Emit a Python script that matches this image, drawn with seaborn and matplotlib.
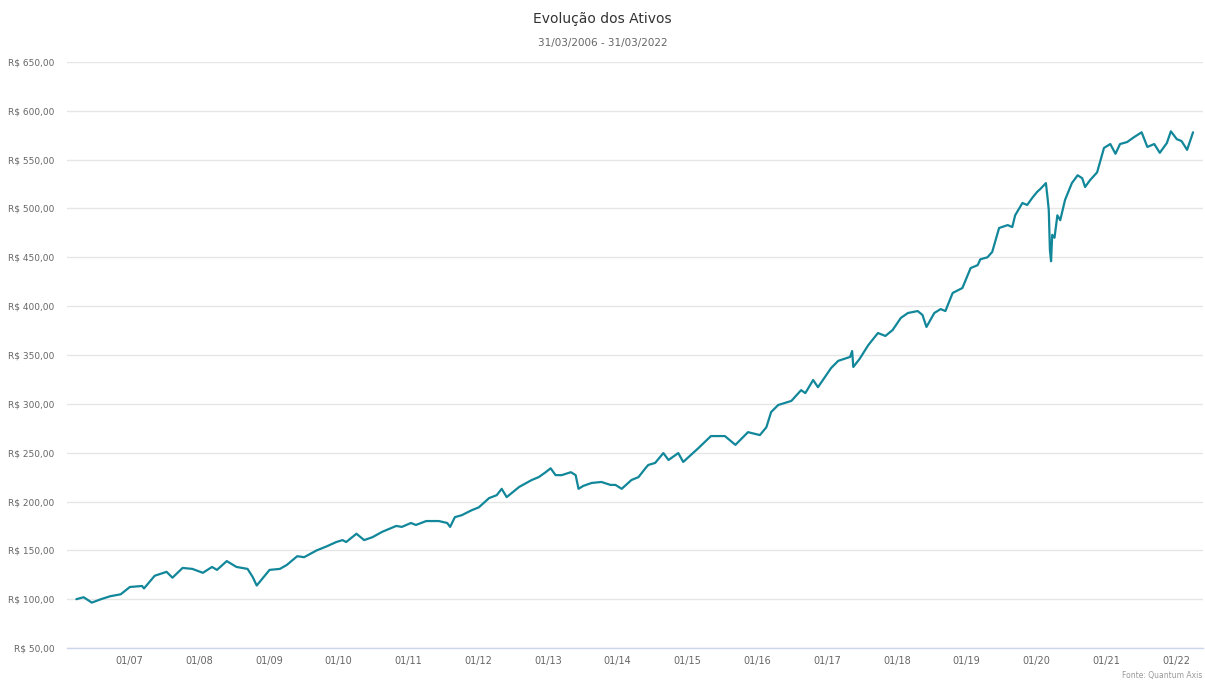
import pandas as pd
import seaborn as sns
import matplotlib.pyplot as plt
import matplotlib.dates as mdates
from matplotlib.ticker import FuncFormatter

# valores (R$)
dates = [
    "2006-03-31", "2006-05-08", "2006-06-20", "2006-08-07", "2006-09-24", "2006-11-18",
    "2007-01-05", "2007-03-10", "2007-03-20", "2007-05-15", "2007-07-16", "2007-08-16",
    "2007-10-08", "2007-11-28", "2008-01-22", "2008-03-10", "2008-04-05", "2008-05-26",
    "2008-07-16", "2008-09-12", "2008-10-08", "2008-10-30", "2008-11-24", "2009-01-05",
    "2009-02-28", "2009-04-05", "2009-05-30", "2009-07-05", "2009-09-09", "2009-10-30",
    "2009-12-20", "2010-01-22", "2010-02-10", "2010-04-05", "2010-05-15", "2010-06-28",
    "2010-08-18", "2010-10-30", "2010-11-28", "2011-01-15", "2011-02-10", "2011-04-05",
    "2011-06-10", "2011-07-24", "2011-08-08", "2011-09-02", "2011-10-08", "2011-11-28",
    "2012-01-05", "2012-02-28", "2012-04-08", "2012-05-04", "2012-05-30", "2012-08-04",
    "2012-10-08", "2012-11-14", "2012-12-20", "2013-01-15", "2013-02-10", "2013-03-14",
    "2013-05-01", "2013-05-26", "2013-06-10", "2013-07-05", "2013-08-18", "2013-10-08",
    "2013-11-24", "2013-12-20", "2014-01-22", "2014-03-14", "2014-04-20", "2014-05-26",
    "2014-06-10", "2014-07-16", "2014-08-28", "2014-09-24", "2014-11-14", "2014-12-10",
    "2015-02-28", "2015-05-04", "2015-07-16", "2015-09-09", "2015-11-14", "2016-01-15",
    "2016-02-18", "2016-03-14", "2016-04-20", "2016-06-28", "2016-08-18", "2016-09-09",
    "2016-10-20", "2016-11-14", "2017-01-22", "2017-02-28", "2017-05-01", "2017-05-12",
    "2017-05-18", "2017-06-20", "2017-08-04", "2017-09-24", "2017-11-02", "2017-12-10",
    "2018-01-22", "2018-02-28", "2018-04-20", "2018-05-15", "2018-06-05", "2018-07-16",
    "2018-08-18", "2018-09-12", "2018-10-20", "2018-12-10", "2019-01-22", "2019-02-28",
    "2019-03-14", "2019-04-20", "2019-05-15", "2019-06-20", "2019-08-04", "2019-08-28",
    "2019-09-12", "2019-10-20", "2019-11-14", "2019-12-10", "2020-01-05", "2020-01-22",
    "2020-02-20", "2020-02-28", "2020-03-06", "2020-03-12", "2020-03-18", "2020-03-24",
    "2020-04-05", "2020-04-20", "2020-05-05", "2020-05-30", "2020-07-05", "2020-08-04",
    "2020-08-28", "2020-09-12", "2020-10-08", "2020-11-14", "2020-12-20", "2021-01-22",
    "2021-02-18", "2021-03-14", "2021-04-20", "2021-05-26", "2021-07-05", "2021-08-04",
    "2021-09-09", "2021-10-08", "2021-11-14", "2021-12-05", "2022-01-05", "2022-01-30",
    "2022-02-28", "2022-03-31",
]
values = [
    100, 102, 96.5, 100, 103, 105,
    112.5, 113.5, 111, 124, 128, 122,
    132, 131, 127, 133, 130, 139,
    133, 131, 123, 114, 120, 130,
    131, 135, 144, 143, 150, 154,
    158.5, 160.5, 158.5, 167, 160.5, 163.5,
    169, 175, 174, 178, 176, 180,
    180, 178, 174, 184, 186, 191,
    194, 203.5, 206.5, 213, 204.5, 215,
    222, 225, 230, 234, 227, 227,
    230, 227, 213, 216, 219, 220,
    217, 217, 213, 222, 225, 234,
    237.4, 239.5, 249.6, 242.5, 249.6, 240.5,
    254.8, 267, 267, 258, 271, 268,
    276, 291.6, 298.8, 303, 314, 311,
    324.4, 317, 336.7, 344, 348, 354,
    337.7, 346, 360, 372.5, 369.5, 375.6,
    388, 393, 395, 391, 378.7, 393,
    397, 395, 413.5, 418.6, 439, 442,
    448, 450, 455.5, 480, 483, 481,
    493, 505.6, 503.6, 510.7, 517, 520,
    526, 512, 498.5, 457.5, 446, 473,
    470, 493, 488, 508.7, 526, 534,
    531, 522, 529, 537, 562, 566,
    556, 566, 568, 573, 578, 563,
    566, 557, 567, 579, 571, 569,
    560, 578,
]

df = pd.DataFrame({"data": pd.to_datetime(dates), "valor": values})

sns.set_style("white")
plt.rcParams["font.family"] = ["DejaVu Sans"]

fig = plt.figure(figsize=(12.05, 6.84), dpi=100)
ax = fig.add_axes([0.0556, 0.0526, 0.9424, 0.8568])

sns.lineplot(data=df, x="data", y="valor", ax=ax, color="#12879a", linewidth=1.6)

ax.set_ylim(50, 650)
ax.set_yticks(range(50, 651, 50))
ax.yaxis.set_major_formatter(FuncFormatter(lambda v, p: "R$ " + f"{v:.2f}".replace(".", ",")))
ax.set_xlim(pd.Timestamp("2006-02-10"), pd.Timestamp("2022-05-20"))
ax.xaxis.set_major_locator(mdates.YearLocator(1, month=1, day=1))
ax.xaxis.set_major_formatter(mdates.DateFormatter("%m/%y"))

ax.grid(axis="y", color="#e6e6e6", linewidth=1)
ax.set_axisbelow(True)
for s in ["top", "right", "left"]:
    ax.spines[s].set_visible(False)
ax.spines["bottom"].set_color("#ccd6eb")
ax.spines["bottom"].set_linewidth(1)

ax.tick_params(axis="y", length=0, labelsize=6.5, labelcolor="#666666", pad=9)
ax.tick_params(axis="x", length=5, width=1, color="#ccd6eb", labelsize=7,
               labelcolor="#666666", pad=1, direction="out")
ax.set_xlabel("")
ax.set_ylabel("")

fig.text(0.5, 0.972, "Evolução dos Ativos", ha="center", va="center", fontsize=10, color="#333333")
fig.text(0.5, 0.937, "31/03/2006 - 31/03/2022", ha="center", va="center", fontsize=7.5, color="#666666")
fig.text(0.998, 0.006, "Fonte: Quantum Axis", ha="right", va="bottom", fontsize=5.5, color="#999999")

fig.savefig("out.png", dpi=100)
